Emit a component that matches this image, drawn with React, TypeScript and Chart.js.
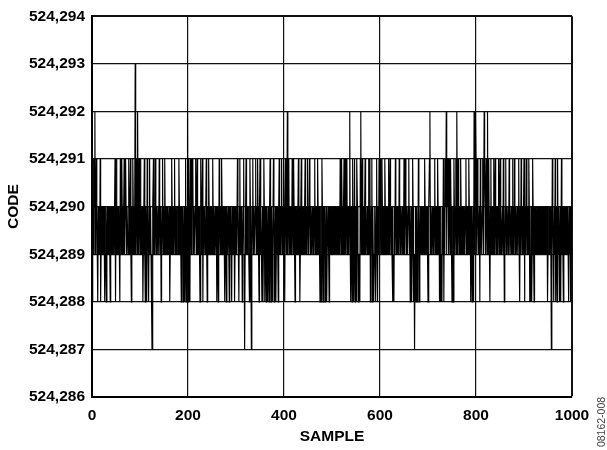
import { useEffect, useRef } from 'react';
import { Chart, registerables } from 'chart.js';

Chart.register(...registerables);

const FONT = "'Liberation Sans', Arial, Helvetica, sans-serif";

const X_TICKS = [0, 200, 400, 600, 800, 1000];
const Y_TICKS = [524286, 524287, 524288, 524289, 524290, 524291, 524292, 524293, 524294];
const X_TITLE = 'SAMPLE';
const Y_TITLE = 'CODE';
const WATERMARK = '08162-008';

// samples 0-199
const codesA = [
  524291,524288,524290,524289,524291,524290,524292,524289,524290,524291,
  524290,524289,524288,524290,524289,524290,524289,524291,524288,524289,
  524290,524289,524290,524289,524290,524290,524289,524288,524289,524290,
  524288,524289,524290,524289,524290,524289,524290,524289,524288,524290,
  524289,524290,524289,524290,524289,524290,524289,524289,524291,524288,
  524290,524291,524289,524290,524289,524289,524290,524289,524288,524291,
  524290,524289,524291,524290,524289,524289,524290,524291,524289,524290,
  524291,524290,524289,524290,524290,524289,524290,524291,524289,524290,
  524291,524289,524288,524290,524289,524291,524290,524289,524289,524290,
  524293,524289,524290,524291,524289,524292,524290,524289,524291,524290,
  524289,524291,524290,524289,524290,524290,524288,524289,524290,524291,
  524289,524288,524290,524289,524288,524291,524290,524289,524288,524290,
  524291,524289,524290,524289,524288,524287,524289,524290,524291,524289,
  524290,524289,524291,524290,524289,524290,524289,524289,524290,524289,
  524291,524290,524289,524290,524288,524289,524290,524291,524289,524290,
  524289,524290,524291,524289,524290,524289,524290,524289,524290,524289,
  524289,524290,524288,524289,524290,524289,524291,524290,524289,524290,
  524289,524290,524291,524289,524290,524289,524290,524289,524289,524290,
  524289,524291,524290,524289,524290,524289,524288,524290,524289,524290,
  524288,524289,524290,524288,524289,524291,524288,524290,524289,524292,
];

// samples 200-399
const codesB = [
  524288,524290,524291,524289,524288,524291,524290,524289,524291,524290,
  524291,524289,524290,524289,524289,524290,524291,524289,524290,524291,
  524289,524290,524289,524290,524289,524288,524290,524291,524289,524290,
  524291,524288,524290,524289,524290,524290,524289,524290,524291,524289,
  524288,524290,524289,524291,524290,524289,524290,524289,524289,524290,
  524289,524290,524291,524289,524290,524289,524289,524290,524289,524290,
  524288,524289,524290,524288,524289,524291,524290,524289,524290,524289,
  524291,524290,524289,524290,524289,524290,524289,524288,524290,524289,
  524288,524290,524289,524289,524290,524289,524288,524290,524289,524290,
  524289,524288,524290,524289,524290,524289,524290,524288,524289,524290,
  524289,524290,524289,524291,524290,524289,524288,524290,524291,524289,
  524290,524289,524290,524288,524289,524290,524291,524289,524287,524289,
  524290,524291,524289,524290,524289,524289,524290,524289,524288,524291,
  524290,524289,524287,524289,524290,524291,524289,524290,524289,524289,
  524290,524291,524289,524290,524289,524291,524290,524289,524288,524290,
  524291,524289,524290,524289,524288,524290,524288,524289,524291,524290,
  524288,524289,524290,524288,524290,524289,524288,524290,524289,524288,
  524290,524291,524289,524288,524290,524289,524288,524289,524291,524290,
  524288,524289,524290,524288,524289,524290,524290,524289,524288,524290,
  524291,524289,524290,524289,524290,524291,524289,524290,524289,524291,
];

// samples 400-599
const codesC = [
  524290,524289,524288,524291,524290,524289,524290,524292,524289,524290,
  524291,524289,524290,524290,524289,524290,524289,524291,524290,524289,
  524291,524290,524289,524288,524290,524289,524289,524290,524289,524290,
  524291,524289,524290,524288,524289,524290,524291,524289,524290,524289,
  524289,524290,524289,524290,524291,524289,524290,524289,524290,524291,
  524289,524290,524289,524291,524290,524289,524290,524289,524289,524290,
  524289,524290,524289,524290,524291,524289,524290,524289,524290,524289,
  524291,524290,524289,524290,524289,524288,524290,524289,524288,524291,
  524290,524289,524288,524290,524289,524290,524288,524289,524290,524288,
  524289,524289,524290,524289,524288,524290,524289,524290,524289,524290,
  524289,524290,524289,524290,524289,524290,524289,524290,524289,524290,
  524289,524290,524289,524290,524289,524290,524289,524291,524290,524289,
  524291,524290,524289,524289,524290,524291,524289,524290,524291,524289,
  524290,524291,524289,524290,524290,524289,524290,524292,524289,524288,
  524290,524289,524288,524291,524290,524288,524289,524291,524288,524290,
  524289,524288,524291,524290,524289,524288,524289,524289,524288,524291,
  524292,524289,524290,524291,524289,524290,524289,524289,524290,524291,
  524289,524290,524290,524289,524290,524289,524291,524290,524289,524291,
  524288,524289,524290,524291,524288,524290,524289,524288,524289,524290,
  524289,524288,524290,524291,524289,524288,524290,524289,524291,524290,
];

// samples 600-799
const codesD = [
  524291,524289,524290,524289,524291,524290,524289,524289,524290,524289,
  524291,524290,524289,524290,524289,524289,524290,524289,524291,524290,
  524289,524291,524290,524289,524290,524289,524290,524288,524289,524288,
  524290,524289,524291,524290,524289,524290,524290,524289,524290,524289,
  524291,524290,524289,524290,524289,524289,524290,524289,524290,524289,
  524291,524290,524289,524291,524290,524289,524290,524289,524289,524290,
  524291,524289,524290,524288,524289,524290,524288,524289,524291,524290,
  524288,524289,524287,524289,524290,524288,524289,524290,524288,524289,
  524291,524290,524288,524289,524290,524289,524290,524289,524289,524290,
  524289,524290,524289,524291,524290,524289,524290,524289,524290,524289,
  524288,524289,524290,524291,524292,524289,524290,524289,524289,524290,
  524289,524290,524289,524290,524291,524289,524290,524289,524290,524289,
  524291,524290,524289,524290,524288,524289,524290,524288,524289,524288,
  524290,524289,524291,524288,524290,524289,524291,524290,524292,524289,
  524291,524290,524291,524289,524290,524291,524289,524291,524290,524289,
  524288,524289,524290,524288,524291,524290,524289,524290,524291,524289,
  524292,524290,524289,524291,524290,524289,524290,524289,524291,524290,
  524289,524290,524289,524289,524290,524289,524290,524289,524290,524291,
  524289,524290,524289,524290,524289,524291,524290,524289,524290,524288,
  524289,524290,524288,524289,524290,524288,524292,524289,524290,524292,
];

// samples 800-999
const codesE = [
  524291,524290,524289,524291,524290,524289,524289,524290,524288,524291,
  524290,524289,524289,524290,524291,524289,524290,524292,524291,524290,
  524289,524291,524290,524289,524292,524289,524290,524291,524289,524288,
  524290,524291,524289,524290,524289,524290,524289,524291,524290,524289,
  524291,524290,524289,524290,524290,524289,524290,524291,524289,524290,
  524291,524289,524290,524289,524289,524290,524289,524291,524290,524288,
  524289,524290,524291,524289,524290,524289,524289,524290,524289,524291,
  524290,524289,524289,524290,524289,524290,524291,524289,524290,524289,
  524291,524290,524289,524290,524289,524289,524290,524289,524290,524291,
  524289,524288,524290,524289,524291,524290,524289,524290,524289,524290,
  524291,524288,524289,524290,524289,524291,524290,524289,524290,524289,
  524291,524290,524288,524289,524288,524290,524288,524289,524291,524290,
  524289,524288,524290,524289,524290,524289,524290,524289,524290,524289,
  524290,524289,524290,524289,524290,524289,524290,524289,524290,524289,
  524290,524289,524290,524289,524290,524289,524290,524289,524290,524288,
  524289,524290,524289,524290,524289,524290,524289,524287,524289,524291,
  524290,524289,524288,524290,524289,524291,524288,524289,524290,524288,
  524291,524289,524290,524289,524288,524290,524289,524288,524291,524289,
  524290,524289,524288,524290,524289,524290,524289,524290,524289,524290,
  524289,524290,524289,524288,524290,524289,524290,524288,524289,524290,
];

const watermarkPlugin = {
  id: 'watermark',
  afterDraw(chart: any) {
    const ctx = chart.ctx;
    ctx.save();
    ctx.translate(602, 422);
    ctx.rotate(-Math.PI / 2);
    ctx.font = `10.5px ${FONT}`;
    ctx.fillStyle = '#444';
    ctx.textAlign = 'center';
    ctx.textBaseline = 'middle';
    ctx.fillText(WATERMARK, 0, 0);
    ctx.restore();
  },
};

export default function App() {
  const ref = useRef<HTMLCanvasElement>(null);

  useEffect(() => {
    const codes = [...codesA, ...codesB, ...codesC, ...codesD, ...codesE];
    const points = codes.map((y, i) => ({ x: i, y }));
    const xMax = X_TICKS[X_TICKS.length - 1];
    const yMax = Y_TICKS[Y_TICKS.length - 1];

    const chart = new Chart(ref.current as HTMLCanvasElement, {
      type: 'line',
      data: {
        datasets: [
          {
            data: points,
            borderColor: '#000',
            borderWidth: 1.15,
            pointRadius: 0,
            tension: 0,
            fill: false,
          },
        ],
      },
      options: {
        animation: false,
        responsive: false,
        devicePixelRatio: 1,
        layout: { padding: { top: 13, right: 35, bottom: 0, left: 0 } },
        plugins: {
          legend: { display: false },
          tooltip: { enabled: false },
        },
        scales: {
          x: {
            type: 'linear',
            min: X_TICKS[0],
            max: xMax,
            afterBuildTicks: (s: any) => {
              s.ticks = X_TICKS.map((v) => ({ value: v }));
            },
            afterFit: (s: any) => {
              s.height = 53;
            },
            grid: {
              color: '#111',
              lineWidth: (c: any) => (c.tick && c.tick.value === xMax ? 2 : 1.2),
              drawTicks: false,
            },
            border: { display: true, color: '#000', width: 2 },
            ticks: {
              color: '#000',
              padding: 9,
              maxRotation: 0,
              font: { family: FONT, size: 15.5, weight: 'bold' },
              callback: (v: any) => String(v),
            },
            title: {
              display: true,
              text: X_TITLE,
              color: '#000',
              font: { family: FONT, size: 15.5, weight: 'bold' },
              padding: { top: 0, bottom: 4 },
            },
          },
          y: {
            type: 'linear',
            min: Y_TICKS[0],
            max: yMax,
            afterBuildTicks: (s: any) => {
              s.ticks = Y_TICKS.map((v) => ({ value: v }));
            },
            afterFit: (s: any) => {
              s.width = 92;
            },
            grid: {
              color: '#111',
              lineWidth: (c: any) => (c.tick && c.tick.value === yMax ? 2 : 1.2),
              drawTicks: false,
            },
            border: { display: true, color: '#000', width: 2 },
            ticks: {
              color: '#000',
              padding: 7,
              font: { family: FONT, size: 15.5, weight: 'bold' },
              callback: (v: any) => Number(v).toLocaleString('en-US'),
            },
            title: {
              display: true,
              text: Y_TITLE,
              color: '#000',
              font: { family: FONT, size: 15.5, weight: 'bold' },
              padding: { top: 4, bottom: 0 },
            },
          },
        },
      },
      plugins: [watermarkPlugin],
    });

    return () => chart.destroy();
  }, []);

  return (
    <div style={{ position: 'fixed', left: 0, top: 0, width: 607, height: 450, background: '#fff' }}>
      <canvas ref={ref} width={607} height={450} style={{ display: 'block', width: 607, height: 450 }} />
    </div>
  );
}
